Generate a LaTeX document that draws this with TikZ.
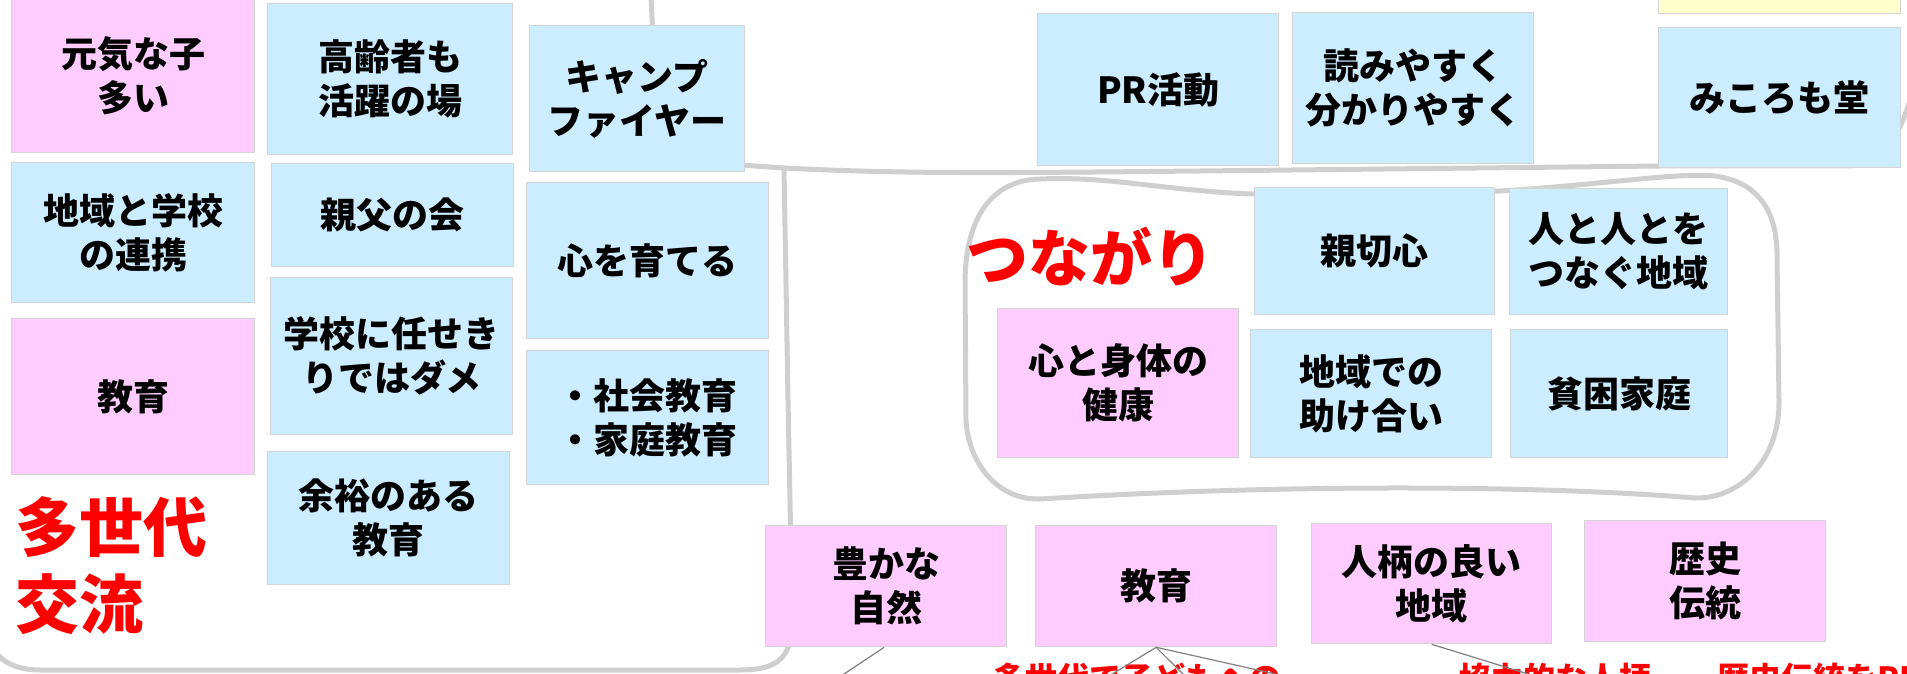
\documentclass[tikz,border=0pt]{standalone}
\usepackage{fontspec}
\newfontfamily\jp{Noto Sans CJK JP}
\definecolor{noteblue}{HTML}{CCECFF}
\definecolor{notepink}{HTML}{FFCCFF}
\definecolor{noteyellow}{HTML}{FFFFCC}
\definecolor{noteedge}{HTML}{D4D4D4}
\definecolor{zone}{HTML}{CFCFCF}
\definecolor{wire}{HTML}{808080}
\definecolor{hot}{HTML}{FF0000}
\begin{document}
\begin{tikzpicture}[x=1pt,y=-1pt,
  note/.style={draw=noteedge, line width=1.3pt, anchor=north west, inner sep=0pt,
    align=center, font=\jp\bfseries\fontsize{36}{44}\selectfont, text=black},
  bluenote/.style={note, fill=noteblue},
  pinknote/.style={note, fill=notepink},
  yellownote/.style={note, fill=noteyellow},
  zoneline/.style={draw=zone, line width=5pt, line cap=round, line join=round},
  wireline/.style={draw=wire, line width=1.2pt},
  bigred/.style={text=hot, inner sep=0pt, font=\jp\bfseries\fontsize{64}{77}\selectfont},
  smallred/.style={text=hot, inner sep=0pt, font=\jp\bfseries\fontsize{32}{38}\selectfont},
]
\useasboundingbox (0,0) rectangle (1907,674);
\clip (0,0) rectangle (1907,674);
\fill[white] (0,0) rectangle (1907,674);

% zone outlines
\draw[zoneline] (651,-5) -- (653,40) -- (740,165) -- (784,168) -- (788,400) -- (792,600) -- (790,640)
  .. controls (786,662) and (770,670) .. (740,670) -- (40,670) .. controls (20,670) and (6,664) .. (-2,655);
\draw[zoneline] (784,168) .. controls (900,174) and (1000,173) .. (1200,171) -- (1660,166) -- (1850,166)
  .. controls (1880,164) and (1898,140) .. (1910,100);
\draw[zoneline] (1040,179) .. controls (1110,176) and (1160,190) .. (1250,194) -- (1500,191)
  .. controls (1600,185) and (1680,172) .. (1715,176) .. controls (1765,183) and (1778,220) .. (1777,260)
  -- (1779,400) .. controls (1780,460) and (1740,499) .. (1695,498)
  .. controls (1550,486) and (1300,483) .. (1040,499) .. controls (995,500) and (968,460) .. (966,420)
  -- (965,280) .. controls (966,220) and (990,180) .. (1040,179) -- cycle;

% left group
\node[pinknote, minimum width=243pt, minimum height=154pt] (genki) at (11,-2) {元気な子\\多い};
\node[bluenote, minimum width=245pt, minimum height=151pt] (koreisha) at (267,3) {高齢者も\\活躍の場};
\node[bluenote, minimum width=215pt, minimum height=146pt] (camp) at (529,25) {キャンプ\\ファイヤー};
\node[bluenote, minimum width=243pt, minimum height=140pt] (renkei) at (11,162) {地域と学校\\の連携};
\node[bluenote, minimum width=242pt, minimum height=103pt] (oyaji) at (271,163) {親父の会};
\node[bluenote, minimum width=242pt, minimum height=156pt] (sodateru) at (526,182) {心を育てる};
\node[pinknote, minimum width=243pt, minimum height=156pt] (kyoikuL) at (11,318) {教育};
\node[bluenote, minimum width=242pt, minimum height=157pt] (makase) at (270,277) {学校に任せき\\りではダメ};
\node[bluenote, minimum width=242pt, minimum height=134pt, align=left] (shakai) at (526,350) {・社会教育\\・家庭教育};
\node[bluenote, minimum width=242pt, minimum height=133pt] (yoyu) at (267,451) {余裕のある\\教育};
\node[bigred, anchor=north west, align=left] (tasedai) at (15,496) {多世代\\交流};

% top right group
\node[bluenote, minimum width=241pt, minimum height=152pt] (pr) at (1037,13) {PR活動};
\node[bluenote, minimum width=241pt, minimum height=151pt] (yomi) at (1292,12) {読みやすく\\分かりやすく};
\node[yellownote, minimum width=242pt, minimum height=23pt] (kiiro) at (1658,-10) {};
\node[bluenote, minimum width=242pt, minimum height=140pt] (mikoro) at (1658,27) {みころも堂};

% tsunagari group
\node[text=hot, inner sep=0pt, anchor=west, font=\jp\bfseries\fontsize{62}{70}\selectfont] (tsunagari) at (966,257) {つながり};
\node[bluenote, minimum width=240pt, minimum height=127pt] (shinsetsu) at (1254,187) {親切心};
\node[bluenote, minimum width=218pt, minimum height=126pt] (hito) at (1509,188) {人と人とを\\つなぐ地域};
\node[pinknote, minimum width=241pt, minimum height=149pt] (kenko) at (997,308) {心と身体の\\健康};
\node[bluenote, minimum width=241pt, minimum height=128pt] (tasuke) at (1250,329) {地域での\\助け合い};
\node[bluenote, minimum width=217pt, minimum height=128pt] (hinkon) at (1510,329) {貧困家庭};

% bottom row
\node[pinknote, minimum width=241pt, minimum height=121pt] (yutaka) at (765,525) {豊かな\\自然};
\node[pinknote, minimum width=241pt, minimum height=121pt] (kyoikuB) at (1035,525) {教育};
\node[pinknote, minimum width=240pt, minimum height=120pt] (hitogara) at (1311,523) {人柄の良い\\地域};
\node[pinknote, minimum width=241pt, minimum height=121pt] (rekishi) at (1584,520) {歴史\\伝統};

% bottom red labels (cut off by the frame, as in the reference)
\node[smallred, anchor=base west] (lab1) at (993,690) {多世代で子どもへの};
\node[smallred, anchor=base west] (lab2) at (1459,690) {協力的な人柄};
\node[smallred, anchor=base west] (lab3) at (1717,690) {歴史伝統をPR};

% connectors
\coordinate (e1) at (820,690);
\coordinate (e2) at (1086,690);
\coordinate (e3) at (1199,690);
\coordinate (e4) at (1347,690);
\coordinate (e5) at (1580,690);
\draw[wireline] ([xshift=-2pt]yutaka.south) -- (e1);
\draw[wireline] (kyoikuB.south) -- (e2);
\draw[wireline] (kyoikuB.south) -- (e3);
\draw[wireline] (kyoikuB.south) -- (e4);
\draw[wireline] (hitogara.south) -- (e5);
\end{tikzpicture}
\end{document}
